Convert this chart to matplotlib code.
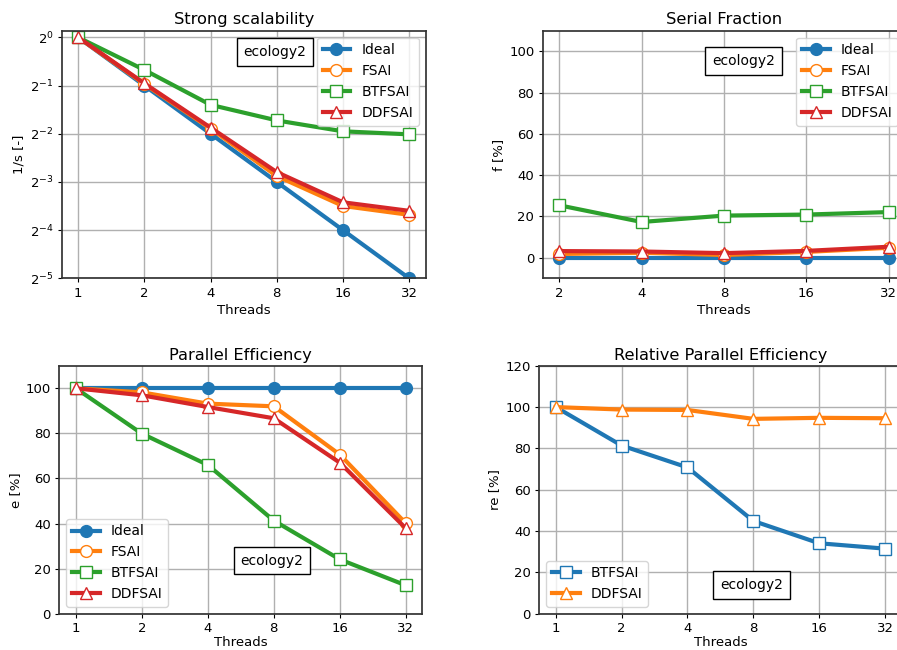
#!/usr/bin/env python3
"""Scalability summary for ecology2: speedup, serial fraction and efficiencies."""

import matplotlib
matplotlib.use("Agg")
import matplotlib.pyplot as plt
from matplotlib.ticker import ScalarFormatter, FixedLocator

threads = [1, 2, 4, 8, 16, 32]
threads_sf = [2, 4, 8, 16, 32]

# inverse speedup 1/s
inv_ideal = [1.0, 0.5, 0.25, 0.125, 0.0625, 0.03125]
inv_fsai = [1.0, 0.511, 0.269, 0.136, 0.0885, 0.0779]
inv_btfsai = [1.0, 0.626, 0.379, 0.303, 0.259, 0.248]
inv_ddfsai = [1.0, 0.516, 0.273, 0.144, 0.0933, 0.0825]

# serial fraction f [%]
sf_ideal = [0.0, 0.0, 0.0, 0.0, 0.0]
sf_fsai = [1.8, 2.4, 1.3, 2.8, 4.8]
sf_btfsai = [25.4, 17.3, 20.4, 20.9, 22.1]
sf_ddfsai = [3.2, 3.0, 2.2, 3.3, 5.3]

# parallel efficiency e [%]
eff_ideal = [100, 100, 100, 100, 100, 100]
eff_fsai = [100, 98.2, 93.2, 92.0, 70.6, 40.1]
eff_btfsai = [100, 79.9, 66.0, 41.3, 24.1, 12.6]
eff_ddfsai = [100, 96.9, 91.7, 86.7, 67.0, 37.9]

# efficiency relative to FSAI
rel_btfsai = [100, 81.4, 70.8, 44.9, 34.1, 31.5]
rel_ddfsai = [100, 98.8, 98.6, 94.3, 94.8, 94.6]

matrix_name = "ecology2"

plt.rcParams.update({
    "font.family": "DejaVu Sans",
    "font.size": 10,
    "axes.edgecolor": "#333333",
    "axes.linewidth": 1.25,
    "axes.labelsize": 9.5,
    "axes.labelpad": 3.0,
    "xtick.labelsize": 9.5,
    "ytick.labelsize": 9.5,
    "xtick.major.size": 3,
    "ytick.major.size": 3,
    "xtick.major.pad": 3,
    "ytick.major.pad": 3,
    "grid.color": "#b0b0b0",
    "grid.linewidth": 1.0,
    "legend.numpoints": 1,
    "legend.fontsize": 10,
})

BLUE, ORANGE, GREEN, RED = "#1f77b4", "#ff7f0e", "#2ca02c", "#d62728"
LW, MS = 3, 8.5


def line(ax, x, y, color, marker, label, filled=False):
    ax.plot(x, y, color=color, lw=LW, marker=marker, ms=MS,
            markerfacecolor=color if filled else "white",
            markeredgecolor=color, markeredgewidth=1.0, label=label)


def style_threads(ax, ticks, labelpad=3.0):
    ax.set_xscale("log", base=2)
    ax.xaxis.set_major_locator(FixedLocator(ticks))
    ax.xaxis.set_major_formatter(ScalarFormatter())
    ax.xaxis.set_minor_locator(FixedLocator([]))
    ax.set_xlabel("Threads", labelpad=labelpad)
    ax.grid(True)


def titled(ax, text):
    ax.set_title(text, fontsize=11.7, pad=4.5)


def tag(ax, x, y):
    ax.text(x, y, matrix_name, transform=ax.transAxes, ha="center", va="center",
            fontsize=10, bbox=dict(boxstyle="square,pad=0.5", fc="white", ec="black"))


fig = plt.figure(figsize=(8.97, 6.5), dpi=100)
ax1 = fig.add_axes([0.0688, 0.5718, 0.4058, 0.381])
ax2 = fig.add_axes([0.6050, 0.5718, 0.4041, 0.381])
ax3 = fig.add_axes([0.0661, 0.0558, 0.4047, 0.3815])
ax4 = fig.add_axes([0.6012, 0.0558, 0.4038, 0.3815])

# strong scalability
line(ax1, threads, inv_ideal, BLUE, "o", "Ideal", filled=True)
line(ax1, threads, inv_fsai, ORANGE, "o", "FSAI")
line(ax1, threads, inv_btfsai, GREEN, "s", "BTFSAI")
line(ax1, threads, inv_ddfsai, RED, "^", "DDFSAI")
style_threads(ax1, threads)
ax1.set_yscale("log", base=2)
ax1.yaxis.set_minor_locator(FixedLocator([]))
ax1.set_ylim(2 ** -5, 2 ** 0.14)
ax1.set_ylabel("1/s [-]")
titled(ax1, "Strong scalability")
ax1.legend(loc="upper right")
tag(ax1, 0.586, 0.914)

# serial fraction
line(ax2, threads_sf, sf_ideal, BLUE, "o", "Ideal", filled=True)
line(ax2, threads_sf, sf_fsai, ORANGE, "o", "FSAI")
line(ax2, threads_sf, sf_btfsai, GREEN, "s", "BTFSAI")
line(ax2, threads_sf, sf_ddfsai, RED, "^", "DDFSAI")
style_threads(ax2, threads_sf)
ax2.set_ylim(-10, 110)
ax2.set_ylabel("f [%]")
titled(ax2, "Serial Fraction")
ax2.legend(loc="upper right")
tag(ax2, 0.555, 0.878)

# parallel efficiency
line(ax3, threads, eff_ideal, BLUE, "o", "Ideal", filled=True)
line(ax3, threads, eff_fsai, ORANGE, "o", "FSAI")
line(ax3, threads, eff_btfsai, GREEN, "s", "BTFSAI")
line(ax3, threads, eff_ddfsai, RED, "^", "DDFSAI")
style_threads(ax3, threads, labelpad=1.0)
ax3.set_ylim(0, 110)
ax3.set_ylabel("e [%]")
titled(ax3, "Parallel Efficiency")
ax3.legend(loc="lower left")
tag(ax3, 0.586, 0.2145)

# relative parallel efficiency
line(ax4, threads, rel_btfsai, BLUE, "s", "BTFSAI")
line(ax4, threads, rel_ddfsai, ORANGE, "^", "DDFSAI")
style_threads(ax4, threads, labelpad=1.0)
ax4.set_ylim(0, 120)
ax4.set_ylabel("re [%]")
titled(ax4, "Relative Parallel Efficiency")
ax4.legend(loc="lower left")
tag(ax4, 0.586, 0.116)

fig.savefig("out.png", dpi=100)
